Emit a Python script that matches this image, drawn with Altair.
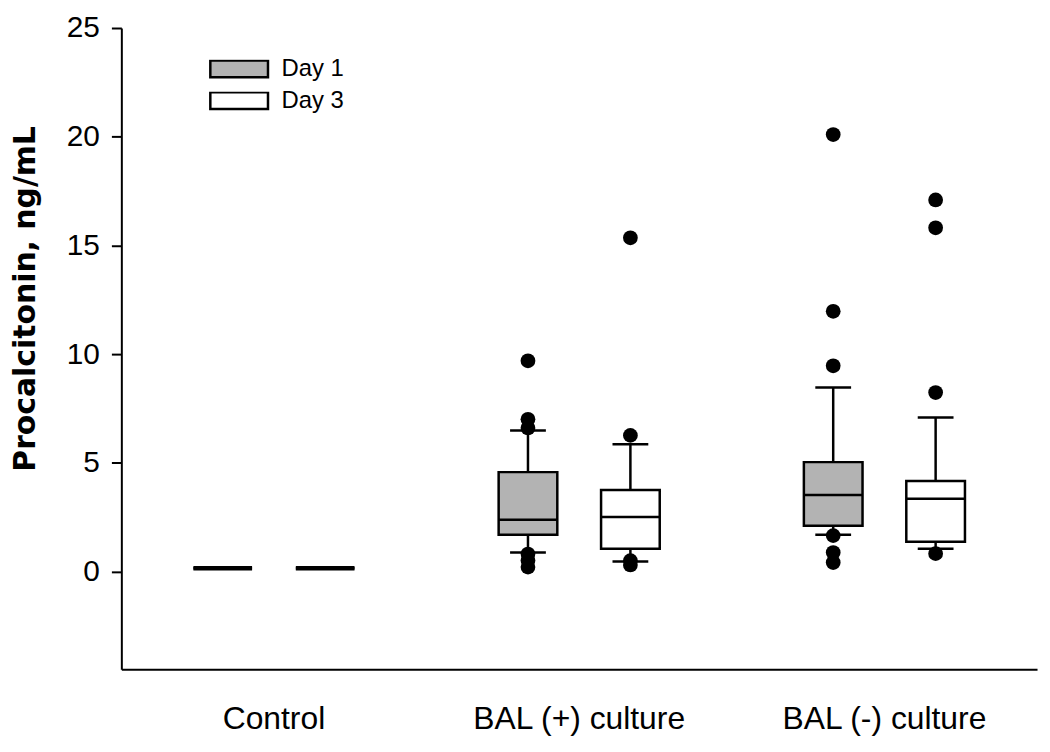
import altair as alt
import pandas as pd

groups = ["Control", "BAL (+) culture", "BAL (-) culture"]
days = ["Day 1", "Day 3"]

# box summaries (one row per box)
box_group = ["Control", "Control", "BAL (+) culture", "BAL (+) culture", "BAL (-) culture", "BAL (-) culture"]
box_day = ["Day 1", "Day 3", "Day 1", "Day 3", "Day 1", "Day 3"]
whisker_low = [0.15, 0.15, 0.87, 0.46, 1.69, 1.05]
q1 = [0.15, 0.15, 1.69, 1.05, 2.10, 1.37]
median = [0.15, 0.15, 2.38, 2.51, 3.52, 3.34]
q3 = [0.15, 0.15, 4.57, 3.75, 5.03, 4.16]
whisker_high = [0.15, 0.15, 6.49, 5.85, 8.46, 7.08]

# outliers
out_group = ["BAL (+) culture"] * 6 + ["BAL (+) culture"] * 4 + ["BAL (-) culture"] * 6 + ["BAL (-) culture"] * 4
out_day = ["Day 1"] * 6 + ["Day 3"] * 4 + ["Day 1"] * 6 + ["Day 3"] * 4
out_value = [9.69, 7.0, 6.6, 0.8, 0.5, 0.2,
             15.35, 6.26, 0.5, 0.3,
             20.1, 11.97, 9.46, 1.65, 0.87, 0.41,
             17.09, 15.81, 8.23, 0.82]

boxes = pd.DataFrame({"group": box_group, "day": box_day, "low": whisker_low,
                      "q1": q1, "median": median, "q3": q3, "high": whisker_high})
outs = pd.DataFrame({"group": out_group, "day": out_day, "value": out_value})

FONT = "Liberation Sans"

xscale = alt.Scale(domain=groups, paddingInner=0, paddingOuter=0)
xaxis = alt.Axis(title=None, labelAngle=0, ticks=False, labelFontSize=32, labelFont=FONT,
                 labelColor="black", labelPadding=35, labelLimit=0, domainColor="black",
                 domainWidth=2, grid=False)
offscale = alt.Scale(domain=days, paddingInner=0, paddingOuter=0.49)
yscale = alt.Scale(domain=[-4.5, 25], nice=False, zero=False)
yaxis = alt.Axis(values=[0, 5, 10, 15, 20, 25], grid=False, tickSize=10, tickWidth=2,
                 tickColor="black", domainColor="black", domainWidth=2,
                 labelFontSize=30, labelFont=FONT, labelColor="black", labelPadding=12,
                 title="Procalcitonin, ng/mL", titleFont="DejaVu Sans", titleFontWeight="bold",
                 titleFontSize=30, titleColor="black", titleAngle=-90, titleAlign="center",
                 titleBaseline="alphabetic", titleX=-87, titleY=272, titleLimit=0)

X = alt.X("group:N", scale=xscale, axis=xaxis)
XO = alt.XOffset("day:N", scale=offscale)

whiskers = alt.Chart(boxes).mark_rule(color="black", strokeWidth=2.5).encode(
    x=X, xOffset=XO,
    y=alt.Y("low:Q", scale=yscale, axis=yaxis),
    y2="high:Q",
)

cap_low = alt.Chart(boxes).mark_tick(color="black", size=36, thickness=2.5, orient="horizontal", opacity=1).encode(
    x=X, xOffset=XO, y=alt.Y("low:Q", scale=yscale, axis=yaxis)
)
cap_high = alt.Chart(boxes).mark_tick(color="black", size=36, thickness=2.5, orient="horizontal", opacity=1).encode(
    x=X, xOffset=XO, y=alt.Y("high:Q", scale=yscale, axis=yaxis)
)

box = alt.Chart(boxes).mark_bar(width=59, stroke="black", opacity=1).encode(
    x=X, xOffset=XO,
    y=alt.Y("q1:Q", scale=yscale, axis=yaxis),
    y2="q3:Q",
    fill=alt.Fill("day:N", scale=alt.Scale(domain=days, range=["#b3b3b3", "#ffffff"]),
                  legend=alt.Legend(orient="none", legendX=88, legendY=32, title=None,
                                    symbolType="M-1,-0.29L1,-0.29L1,0.29L-1,0.29Z",
                                    symbolSize=3364, symbolStrokeColor="black",
                                    symbolStrokeWidth=2.5, symbolOpacity=1,
                                    clipHeight=18, rowPadding=8, labelFontSize=24,
                                    labelFont=FONT, labelColor="black", labelOffset=12,
                                    padding=0)),
    strokeWidth=alt.condition("datum.q1 == datum.q3", alt.value(4.5), alt.value(2.5)),
)

med = alt.Chart(boxes).mark_tick(color="black", size=59, thickness=2.5, orient="horizontal", opacity=1).encode(
    x=X, xOffset=XO, y=alt.Y("median:Q", scale=yscale, axis=yaxis)
)

points = alt.Chart(outs).mark_circle(color="black", size=220, opacity=1).encode(
    x=X, xOffset=XO, y=alt.Y("value:Q", scale=yscale, axis=yaxis)
)

chart = alt.layer(whiskers, cap_low, cap_high, box, med, points).properties(
    width=921, height=645,
    autosize=alt.AutoSizeParams(type="none"),
    padding={"left": 114, "top": 18, "right": 5, "bottom": 70},
    background="white",
).configure_view(stroke=None)

chart.save("out.html", embed_options={"renderer": "svg", "actions": False})
